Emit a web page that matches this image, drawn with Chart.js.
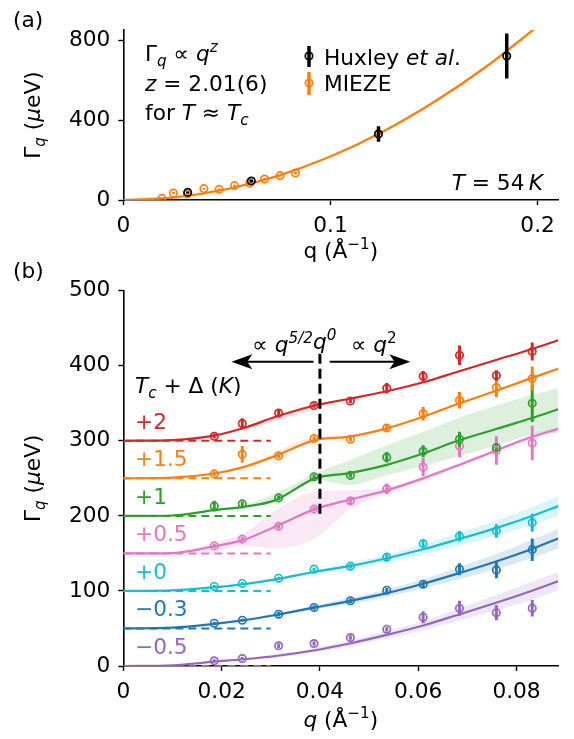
<!DOCTYPE html>
<html>
<head>
<meta charset="utf-8">
<script src="https://cdn.jsdelivr.net/npm/chart.js@4.4.1/dist/chart.umd.min.js"></script>
<style>
    html, body { margin: 0; padding: 0; background: #fff; }
    #wrap { position: relative; width: 574px; height: 739px; overflow: hidden; }
    #cA { position: absolute; left: 0; top: 0; }
    #cB { position: absolute; left: 0; top: 262px; }
</style>
</head>
<body>
<div id="wrap">
    <canvas id="cA" width="574" height="280"></canvas>
    <canvas id="cB" width="574" height="477"></canvas>
</div>
<script>
// ---- panel (a): T = 54 K ----
var xTicksA = [0, 0.1, 0.2];
var xLabelsA = ['0', '0.1', '0.2'];
var yTicksA = [0, 400, 800];
var yLabelsA = ['0', '400', '800'];

var fitQa = [0, 0.025, 0.05, 0.075, 0.1, 0.125, 0.15, 0.175, 0.2];
var fitGa = [0, 13, 54, 122, 217, 340, 490, 665, 868];
var fitGaLo = [0, 12, 52, 119, 212, 334, 483, 656, 857];
var fitGaHi = [0, 14, 56, 125, 222, 346, 497, 674, 879];

var huxQ = [0.0311, 0.0618, 0.1232, 0.1851];
var huxG = [38, 95, 330, 720];
var huxErr = [5, 8, 39, 112];

var miezeQ = [0.0186, 0.0242, 0.031, 0.0389, 0.0463, 0.0537, 0.061, 0.0682, 0.0757, 0.0831];
var miezeG = [8, 35, 30, 57, 53, 72, 85, 105, 122, 135];
var miezeErr = [4, 5, 4, 4, 4, 4, 5, 5, 5, 6];

// ---- panel (b): curves offset by 50 each ----
var xTicksB = [0, 0.02, 0.04, 0.06, 0.08];
var xLabelsB = ['0', '0.02', '0.04', '0.06', '0.08'];
var yTicksB = [0, 100, 200, 300, 400, 500];
var yLabelsB = ['0', '100', '200', '300', '400', '500'];

var tempLabels = ['+2', '+1.5', '+1', '+0.5', '+0', '\u22120.3', '\u22120.5'];
var offsets = [300, 250, 200, 150, 100, 50, 0];

var qPts = [0.0185, 0.0242, 0.0316, 0.0388, 0.0462, 0.0536, 0.061, 0.0684, 0.0759, 0.0832];
var gP2 = [306, 323, 337, 347, 353, 370, 386, 414, 387, 419];
var eP2 = [3, 7, 4, 3, 3, 7, 7, 13, 7, 12];
var gP15 = [256, 282, 280, 303, 302, 317, 336, 354, 371, 383];
var eP15 = [3, 11, 3, 3, 3, 5, 9, 11, 13, 16];
var gP1 = [213, 216, 224, 252, 254, 278, 286, 302, 291, 350];
var eP1 = [7, 3, 3, 3, 3, 7, 8, 10, 3, 25];
var gP05 = [160, 169, 186, 209, 220, 236, 265, 293, 287, 297];
var eP05 = [3, 3, 3, 3, 5, 7, 12, 15, 19, 23];
var gP0 = [106, 110, 117, 129, 133, 145, 163, 173, 180, 191];
var eP0 = [2, 2, 2, 2, 3, 4, 4, 7, 9, 12];
var gM03 = [57, 61, 69, 78, 87, 101, 109, 129, 128, 155];
var eM03 = [2, 2, 3, 3, 3, 3, 4, 8, 11, 15];
var gM05 = [7, 10, 27, 30, 38, 49, 65, 77, 71, 77];
var eM05 = [2, 2, 3, 3, 3, 3, 8, 10, 10, 11];

var qFit = [0, 0.01, 0.0185, 0.0245, 0.031, 0.039, 0.046, 0.0536, 0.061, 0.068, 0.076, 0.083, 0.0885];
var fitP2 = [300, 301, 307, 317, 332, 347, 356, 366, 378, 392, 408, 422, 434];
var loP2 = [300, 301, 306.5, 315, 327, 343, 355, 365, 377, 391, 407, 421, 433];
var hiP2 = [300, 301, 307.5, 318, 334, 349, 357, 367, 379, 393, 409, 423, 435];
var fitP15 = [250, 251, 256.5, 265, 280, 301, 305.5, 316.5, 332, 349, 367, 383.5, 396];
var loP15 = [250, 251, 256, 264, 279, 299, 304.5, 315.5, 331, 348, 366, 382.5, 395];
var hiP15 = [250, 251, 257, 267, 285, 305, 306.5, 317.5, 333, 350, 368, 384.5, 397];
var fitP1 = [200, 200.5, 207.7, 212, 221, 250, 257, 268, 283, 300, 316, 330, 342];
var loP1 = [200, 200.5, 207, 210.5, 219, 248, 241, 254, 266, 279, 294, 307.6, 310];
var hiP1 = [200, 200.5, 208.5, 214, 230, 256.5, 274, 294, 312, 330, 347, 361, 370];
var fitP05 = [150, 150.5, 159.5, 168, 186, 209, 221.5, 234, 250, 267, 287.5, 305, 316];
var loP05 = [150, 150, 154, 160, 157, 170, 208, 230, 246, 264, 285, 302, 313];
var hiP05 = [150, 150.5, 165, 177, 208, 232, 234, 238, 253, 270, 290, 308, 319];
var fitP0 = [100, 100.8, 104.8, 109, 115.4, 125.6, 133, 143.5, 155.5, 168.5, 184, 199.5, 213];
var loP0 = [100, 100.8, 104.3, 108, 114, 123, 129, 138.5, 149, 160, 174, 188, 200];
var hiP0 = [100, 100.8, 105.3, 110, 117, 128, 137, 148.5, 162, 177, 194, 211, 226];
var fitM03 = [50, 51, 56, 61, 68, 78, 86.5, 97, 109.5, 123, 139.5, 155.5, 170];
var loM03 = [50, 51, 55.5, 60, 66.5, 75.5, 82.5, 92, 103.5, 115, 129.5, 143.5, 157];
var hiM03 = [50, 51, 56.5, 62, 69.5, 80.5, 90.5, 102, 115.5, 131, 149.5, 167.5, 183];
var fitM05 = [0, 1, 5.8, 9, 13.3, 21, 30, 41.5, 54, 68, 84.5, 100, 113];
var loM05 = [0, 1, 5.1, 7.5, 11, 18, 26, 36.5, 48, 60, 74.5, 88, 101];
var hiM05 = [0, 1, 6.5, 10.5, 15.5, 24, 34, 46.5, 60, 76, 94.5, 112, 125];

var dashQ = [0, 0.03];
var crossQ = 0.04;
var crossG = [203, 420];
var arrowG = 405.5;
var arrowLeftQ = [0.0387, 0.022];
var arrowRightQ = [0.042, 0.0584];

var colors = ['#d62728', '#ff7f0e', '#2ca02c', '#e377c2', '#17becf', '#1f77b4', '#9467bd'];
var FONT = '"DejaVu Sans", sans-serif';
var FS = 21.7;

function pairs(q, g) {
    return q.map(function (v, i) { return { x: v, y: g[i] }; });
}

function errSegments(q, g, e) {
    var out = [];
    for (var i = 0; i < q.length; i++) {
        out.push({ x: q[i], y: g[i] - e[i] }, { x: q[i], y: g[i] + e[i] }, { x: q[i], y: null });
    }
    return out;
}

function rgba(hex, a) {
    var n = parseInt(hex.slice(1), 16);
    return 'rgba(' + (n >> 16) + ',' + ((n >> 8) & 255) + ',' + (n & 255) + ',' + a + ')';
}

function linAxis(min, max, ticks, labels, fitKey, fitVal) {
    return {
        type: 'linear', min: min, max: max,
        afterBuildTicks: function (s) {
            s.ticks = ticks.map(function (v) { return { value: v }; });
        },
        afterFit: function (s) { s[fitKey] = fitVal; },
        grid: { drawOnChartArea: false, drawTicks: true, tickLength: 5, tickWidth: 1.4, tickColor: '#000' },
        border: { display: true, color: '#000', width: 1.6 },
        ticks: {
            color: '#000', font: { family: FONT, size: FS }, padding: 8,
            maxRotation: 0, autoSkip: false,
            callback: function (v, i) { return labels[i]; }
        }
    };
}

// runs: [text, italic, shift] shift 1 = superscript, -1 = subscript
function drawRich(ctx, runs, x, y, align, color, size) {
    var items = [], w = 0;
    runs.forEach(function (r) {
        var sz = r[2] ? size * 0.7 : size;
        var font = (r[1] ? 'italic ' : '') + sz + 'px ' + FONT;
        ctx.font = font;
        var wi = ctx.measureText(r[0]).width;
        items.push({ t: r[0], font: font, w: wi, dy: r[2] === 1 ? -size * 0.42 : (r[2] === -1 ? size * 0.22 : 0) });
        w += wi;
    });
    var cx = align === 'right' ? x - w : (align === 'center' ? x - w / 2 : x);
    ctx.save();
    ctx.fillStyle = color;
    ctx.textAlign = 'left';
    ctx.textBaseline = 'alphabetic';
    items.forEach(function (it) {
        ctx.font = it.font;
        ctx.fillText(it.t, cx, y + it.dy);
        cx += it.w;
    });
    ctx.restore();
}

function drawRotated(ctx, runs, x, y, size) {
    ctx.save();
    ctx.translate(x, y);
    ctx.rotate(-Math.PI / 2);
    drawRich(ctx, runs, 0, 0, 'center', '#000', size);
    ctx.restore();
}

function arrow(ctx, x0, x1, y) {
    var dir = x1 > x0 ? 1 : -1;
    var hl = 21, hw = 7.5;
    ctx.save();
    ctx.strokeStyle = '#000';
    ctx.fillStyle = '#000';
    ctx.lineWidth = 2;
    ctx.beginPath();
    ctx.moveTo(x0, y);
    ctx.lineTo(x1 - dir * hl * 0.6, y);
    ctx.stroke();
    ctx.beginPath();
    ctx.moveTo(x1, y);
    ctx.lineTo(x1 - dir * hl, y - hw);
    ctx.lineTo(x1 - dir * hl * 0.75, y);
    ctx.lineTo(x1 - dir * hl, y + hw);
    ctx.closePath();
    ctx.fill();
    ctx.restore();
}

function legendHandle(ctx, x, y, color, y0, y1) {
    ctx.save();
    ctx.strokeStyle = color;
    ctx.lineWidth = 3.5;
    ctx.beginPath();
    ctx.moveTo(x, y0);
    ctx.lineTo(x, y1);
    ctx.stroke();
    ctx.lineWidth = 1.7;
    ctx.beginPath();
    ctx.arc(x, y, 3.7, 0, Math.PI * 2);
    ctx.stroke();
    ctx.restore();
}

// ---------- chart (a) ----------
var orange = colors[1];
var dsA = [
    { data: pairs(fitQa, fitGaLo), borderWidth: 0, pointRadius: 0, fill: false, order: 9, cubicInterpolationMode: 'monotone' },
    { data: pairs(fitQa, fitGaHi), borderWidth: 0, pointRadius: 0, fill: '-1', backgroundColor: rgba(orange, 0.2), order: 9, cubicInterpolationMode: 'monotone' },
    { data: pairs(fitQa, fitGa), borderColor: orange, borderWidth: 2.2, pointRadius: 0, order: 5, cubicInterpolationMode: 'monotone' },
    { data: errSegments(miezeQ, miezeG, miezeErr), borderColor: orange, borderWidth: 3, pointRadius: 0, order: 4 },
    { data: pairs(miezeQ, miezeG), showLine: false, pointRadius: 3.7, pointBorderWidth: 1.7, pointBorderColor: orange, pointBackgroundColor: 'rgba(0,0,0,0)', order: 3 },
    { data: errSegments(huxQ, huxG, huxErr), borderColor: '#000', borderWidth: 3.5, pointRadius: 0, order: 2 },
    { data: pairs(huxQ, huxG), showLine: false, pointRadius: 3.7, pointBorderWidth: 1.7, pointBorderColor: '#000', pointBackgroundColor: 'rgba(0,0,0,0)', order: 1 }
];

var textA = {
    id: 'textA',
    afterDraw: function (chart) {
        var ctx = chart.ctx, a = chart.chartArea;
        drawRich(ctx, [['(a)']], 13, 27, 'left', '#000', FS);
        drawRich(ctx, [['\u0393'], ['q', 1, -1], [' \u221D '], ['q', 1], ['z', 1, 1]], 145, 61, 'left', '#000', FS);
        drawRich(ctx, [['z', 1], [' = 2.01(6)']], 145, 91, 'left', '#000', FS);
        drawRich(ctx, [['for '], ['T', 1], [' \u2248 '], ['T', 1], ['c', 1, -1]], 145, 120, 'left', '#000', FS);
        legendHandle(ctx, 309, 56, '#000', 46, 67);
        legendHandle(ctx, 309, 83, orange, 72, 95);
        drawRich(ctx, [['Huxley '], ['et al', 1], ['.']], 324, 65, 'left', '#000', FS);
        drawRich(ctx, [['MIEZE']], 324, 91, 'left', '#000', FS);
        drawRich(ctx, [['T', 1], [' = 54\u2009'], ['K', 1]], 543, 190, 'right', '#000', FS);
        drawRotated(ctx, [['\u0393'], ['q', 1, -1], [' ('], ['\u03BC', 1], ['eV)']], 40, (a.top + a.bottom) / 2, FS);
        drawRich(ctx, [['q (\u00C5'], ['\u22121', 0, 1], [')']], (a.left + a.right) / 2, 258, 'center', '#000', FS);
    }
};

new Chart(document.getElementById('cA'), {
    type: 'line',
    data: { datasets: dsA },
    options: {
        responsive: false, animation: false, events: [],
        layout: { padding: { left: 0, right: 15.7, top: 30, bottom: 0 } },
        plugins: { legend: { display: false }, tooltip: { enabled: false } },
        scales: {
            x: linAxis(0, 0.21, xTicksA, xLabelsA, 'height', 80),
            y: linAxis(0, 850, yTicksA, yLabelsA, 'width', 123.3)
        }
    },
    plugins: [textA]
});

// ---------- chart (b) ----------
var seriesB = [
    { g: gP2, e: eP2, fit: fitP2, lo: loP2, hi: hiP2 },
    { g: gP15, e: eP15, fit: fitP15, lo: loP15, hi: hiP15 },
    { g: gP1, e: eP1, fit: fitP1, lo: loP1, hi: hiP1 },
    { g: gP05, e: eP05, fit: fitP05, lo: loP05, hi: hiP05 },
    { g: gP0, e: eP0, fit: fitP0, lo: loP0, hi: hiP0 },
    { g: gM03, e: eM03, fit: fitM03, lo: loM03, hi: hiM03 },
    { g: gM05, e: eM05, fit: fitM05, lo: loM05, hi: hiM05 }
];

var dsB = [];
seriesB.forEach(function (s, k) {
    var c = colors[k];
    dsB.push({ data: pairs(qFit, s.lo), borderWidth: 0, pointRadius: 0, fill: false, order: 9, cubicInterpolationMode: 'monotone' });
    dsB.push({ data: pairs(qFit, s.hi), borderWidth: 0, pointRadius: 0, fill: '-1', backgroundColor: rgba(c, 0.16), order: 9, cubicInterpolationMode: 'monotone' });
    dsB.push({ data: pairs(dashQ, [offsets[k], offsets[k]]), borderColor: c, borderWidth: 2, borderDash: [8, 5], pointRadius: 0, order: 6 });
    dsB.push({ data: pairs(qFit, s.fit), borderColor: c, borderWidth: 2.2, pointRadius: 0, order: 5, cubicInterpolationMode: 'monotone' });
    dsB.push({ data: errSegments(qPts, s.g, s.e), borderColor: c, borderWidth: 3, pointRadius: 0, order: 3 });
    dsB.push({ data: pairs(qPts, s.g), showLine: false, pointRadius: 3.7, pointBorderWidth: 1.7, pointBorderColor: c, pointBackgroundColor: 'rgba(0,0,0,0)', order: 2 });
});
dsB.push({ data: pairs([crossQ, crossQ], crossG), borderColor: '#000', borderWidth: 3, borderDash: [10, 5], pointRadius: 0, order: 4 });

var textB = {
    id: 'textB',
    afterDraw: function (chart) {
        var ctx = chart.ctx, a = chart.chartArea, xs = chart.scales.x, ys = chart.scales.y;
        var ay = ys.getPixelForValue(arrowG);
        arrow(ctx, xs.getPixelForValue(arrowLeftQ[0]), xs.getPixelForValue(arrowLeftQ[1]), ay);
        arrow(ctx, xs.getPixelForValue(arrowRightQ[0]), xs.getPixelForValue(arrowRightQ[1]), ay);
        var cx = xs.getPixelForValue(crossQ);
        drawRich(ctx, [['\u221D '], ['q', 1], ['5/2', 1, 1]], cx - 7, 90, 'right', '#000', FS);
        drawRich(ctx, [['q', 1], ['0', 1, 1]], cx - 7, 87, 'left', '#000', FS);
        drawRich(ctx, [['\u221D '], ['q', 1], ['2', 0, 1]], cx + 31, 90, 'left', '#000', FS);

        drawRich(ctx, [['(b)']], 13, 16, 'left', '#000', FS);
        drawRich(ctx, [['T', 1], ['c', 1, -1], [' + \u0394 ('], ['K', 1], [')']], 135, 131, 'left', '#000', FS);
        tempLabels.forEach(function (t, k) {
            drawRich(ctx, [[t]], 135, ys.getPixelForValue(offsets[k]) - 12, 'left', colors[k], FS);
        });
        drawRotated(ctx, [['\u0393'], ['q', 1, -1], [' ('], ['\u03BC', 1], ['eV)']], 40, (a.top + a.bottom) / 2, FS);
        drawRich(ctx, [['q', 1], [' (\u00C5'], ['\u22121', 0, 1], [')']], (a.left + a.right) / 2, 465, 'center', '#000', FS);
    }
};

new Chart(document.getElementById('cB'), {
    type: 'line',
    data: { datasets: dsB },
    options: {
        responsive: false, animation: false, events: [],
        layout: { padding: { left: 0, right: 15.7, top: 28.7, bottom: 0 } },
        plugins: { legend: { display: false }, tooltip: { enabled: false } },
        scales: {
            x: linAxis(0, 0.0885, xTicksB, xLabelsB, 'height', 73),
            y: linAxis(0, 500, yTicksB, yLabelsB, 'width', 123.3)
        }
    },
    plugins: [textB]
});
</script>
</body>
</html>
